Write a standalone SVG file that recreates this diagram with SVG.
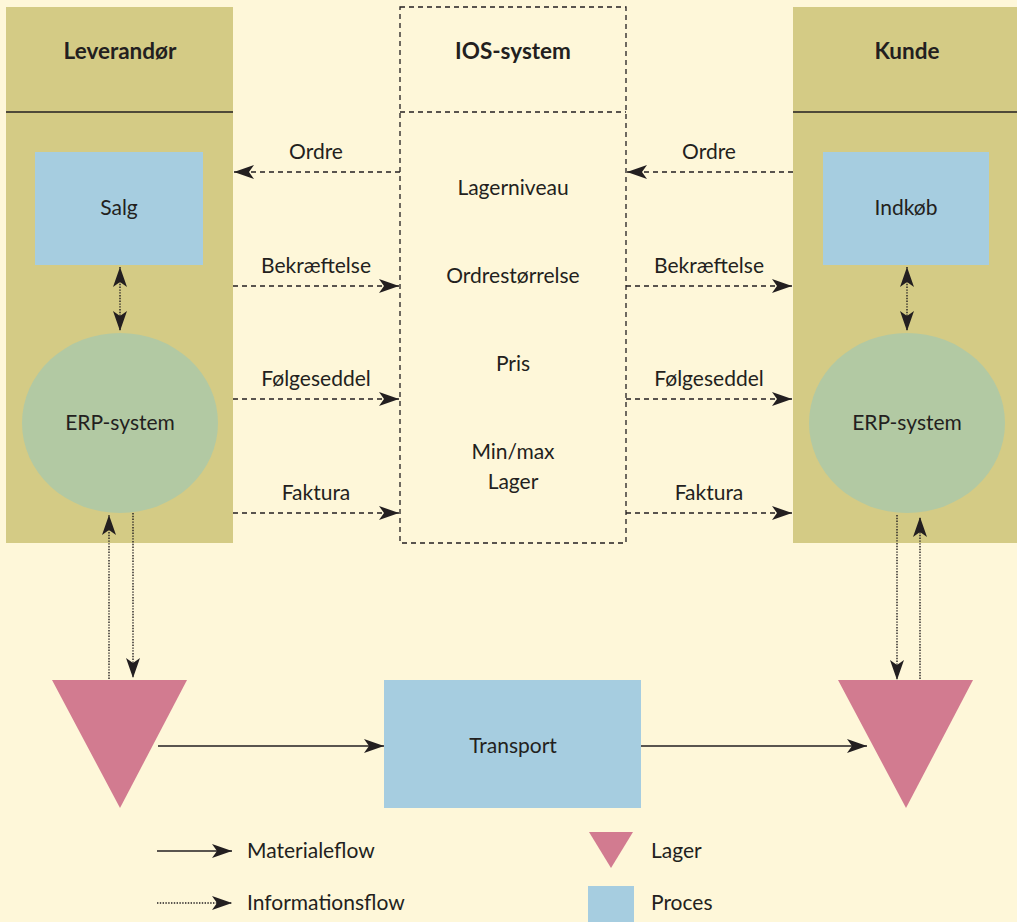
<svg xmlns="http://www.w3.org/2000/svg" width="1017" height="922" viewBox="0 0 1017 922">
<style>
.t{font-family:Lato,"Liberation Sans",sans-serif;font-size:21px;fill:#231f20;text-anchor:middle}
.b{font-weight:bold;font-size:22.5px}
.l{text-anchor:start}
.col{fill:#d4cb85}
.proc{fill:#a6cde0}
.erp{fill:#b2c9a3}
.lag{fill:#d27b90}
.dash{stroke:#231f20;stroke-width:1.3;stroke-dasharray:5,4;fill:none}
.dot{stroke:#231f20;stroke-width:1.4;stroke-dasharray:1.4,1.4;fill:none}
.solid{stroke:#231f20;stroke-width:1.5;fill:none}
</style>
<defs>
<marker id="ah" viewBox="0 0 20 14" refX="20" refY="7" markerWidth="20" markerHeight="14" markerUnits="userSpaceOnUse" orient="auto-start-reverse">
<path d="M0,0 L20,7 L0,14 L5,7 Z" fill="#231f20"/>
</marker>
</defs>
<rect width="1017" height="922" fill="#fef7d9"/>
<g id="leverandor">
<rect class="col" x="6" y="7" width="227" height="536"/>
<line x1="6" y1="112" x2="233" y2="112" stroke="#231f20" stroke-width="1.5"/>
<text class="t b" x="120" y="59">Leverandør</text>
</g>
<g id="kunde">
<rect class="col" x="793" y="7" width="224" height="536"/>
<line x1="793" y1="112" x2="1017" y2="112" stroke="#231f20" stroke-width="1.5"/>
<text class="t b" x="907" y="59">Kunde</text>
</g>
<g id="ios">
<rect class="dash" x="400" y="7" width="226" height="536"/>
<line class="dash" x1="400" y1="112" x2="626" y2="112"/>
<text class="t b" x="513" y="59">IOS-system</text>
<text class="t" x="513" y="195">Lagerniveau</text>
<text class="t" x="513" y="283">Ordrestørrelse</text>
<text class="t" x="513" y="371">Pris</text>
<text class="t" x="513" y="459">Min/max</text>
<text class="t" x="513" y="489">Lager</text>
</g>
<g id="salg">
<rect class="proc" x="35" y="152" width="168" height="113"/>
<text class="t" x="119" y="215">Salg</text>
</g>
<g id="indkob">
<rect class="proc" x="823" y="152" width="166" height="113"/>
<text class="t" x="906" y="215">Indkøb</text>
</g>
<g id="erp-left">
<ellipse class="erp" cx="120" cy="423" rx="98" ry="90"/>
<text class="t" x="120" y="430">ERP-system</text>
</g>
<g id="erp-right">
<ellipse class="erp" cx="907" cy="423" rx="98" ry="90"/>
<text class="t" x="907" y="430">ERP-system</text>
</g>
<g id="lager-left">
<polygon class="lag" points="52,680 187,680 120,808"/>
</g>
<g id="lager-right">
<polygon class="lag" points="838,680 973,680 906,808"/>
</g>
<g id="transport">
<rect class="proc" x="384" y="680" width="257" height="128"/>
<text class="t" x="513" y="753">Transport</text>
</g>
<g id="connectors">
<line class="dash" x1="400" y1="172" x2="234" y2="172" marker-end="url(#ah)"/>
<line class="dash" x1="233" y1="286" x2="399" y2="286" marker-end="url(#ah)"/>
<line class="dash" x1="233" y1="399" x2="399" y2="399" marker-end="url(#ah)"/>
<line class="dash" x1="233" y1="513" x2="399" y2="513" marker-end="url(#ah)"/>
<line class="dash" x1="793" y1="172" x2="627" y2="172" marker-end="url(#ah)"/>
<line class="dash" x1="626" y1="286" x2="792" y2="286" marker-end="url(#ah)"/>
<line class="dash" x1="626" y1="399" x2="792" y2="399" marker-end="url(#ah)"/>
<line class="dash" x1="626" y1="513" x2="792" y2="513" marker-end="url(#ah)"/>
<text class="t" x="316" y="159">Ordre</text>
<text class="t" x="316" y="273">Bekræftelse</text>
<text class="t" x="316" y="386">Følgeseddel</text>
<text class="t" x="316" y="500">Faktura</text>
<text class="t" x="709" y="159">Ordre</text>
<text class="t" x="709" y="273">Bekræftelse</text>
<text class="t" x="709" y="386">Følgeseddel</text>
<text class="t" x="709" y="500">Faktura</text>
<line class="dot" x1="120" y1="267" x2="120" y2="331" marker-start="url(#ah)" marker-end="url(#ah)"/>
<line class="dot" x1="907" y1="267" x2="907" y2="331" marker-start="url(#ah)" marker-end="url(#ah)"/>
<line class="dot" x1="109" y1="679" x2="109" y2="515" marker-end="url(#ah)"/>
<line class="dot" x1="133" y1="513" x2="133" y2="678" marker-end="url(#ah)"/>
<line class="dot" x1="897" y1="515" x2="897" y2="680" marker-end="url(#ah)"/>
<line class="dot" x1="920" y1="679" x2="920" y2="517" marker-end="url(#ah)"/>
<line class="solid" x1="158" y1="746" x2="384" y2="746" marker-end="url(#ah)"/>
<line class="solid" x1="641" y1="746" x2="867" y2="746" marker-end="url(#ah)"/>
</g>
<g id="legend">
<line class="solid" x1="157" y1="851" x2="232" y2="851" marker-end="url(#ah)"/>
<text class="t l" x="247" y="858">Materialeflow</text>
<line class="dot" x1="157" y1="903" x2="232" y2="903" marker-end="url(#ah)"/>
<text class="t l" x="247" y="910">Informationsflow</text>
<polygon class="lag" points="589,832 633,832 611,868"/>
<text class="t l" x="651" y="858">Lager</text>
<rect class="proc" x="588" y="886" width="46" height="36"/>
<text class="t l" x="651" y="910">Proces</text>
</g>
</svg>
